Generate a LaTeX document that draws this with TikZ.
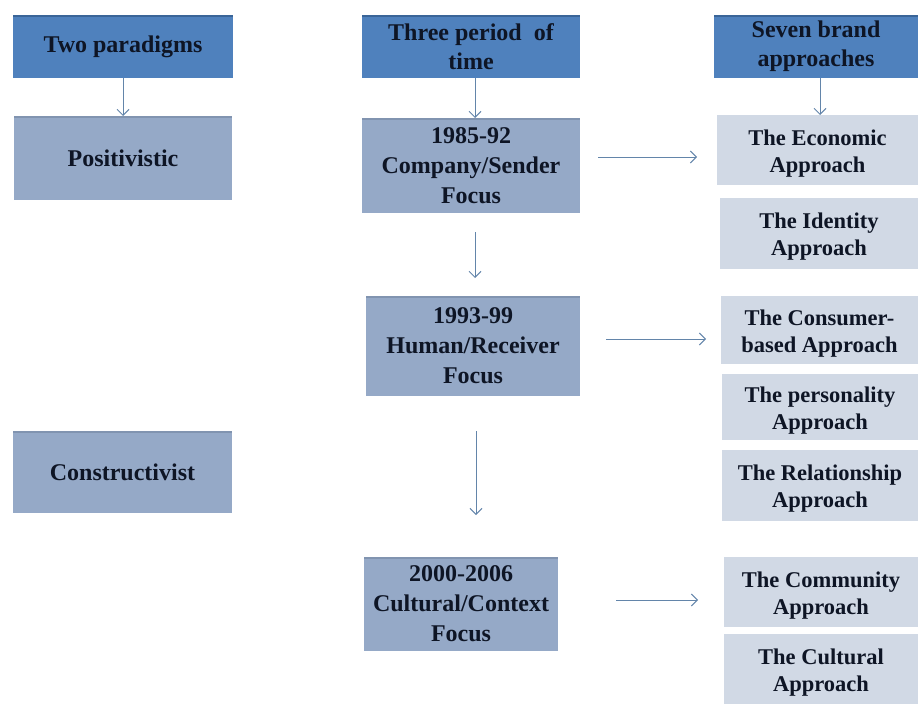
\documentclass[tikz,border=0pt]{standalone}
\usepackage{fontspec}
\setmainfont{Liberation Serif}
\usetikzlibrary{arrows.meta,calc}
\definecolor{headblue}{HTML}{4F81BD}
\definecolor{headtop}{HTML}{3A6598}
\definecolor{midblue}{HTML}{95A9C7}
\definecolor{midtop}{HTML}{8194B0}
\definecolor{lightblue}{HTML}{D1D9E5}
\definecolor{arrowblue}{HTML}{6385AA}
\definecolor{ink}{HTML}{0E1525}
\tikzset{
  box/.style={rectangle, inner sep=0pt, outer sep=0pt, align=center,
    text=ink, font=\bfseries},
  headbox/.style={box, fill=headblue, font=\fontsize{24}{29}\selectfont\bfseries,
    path picture={\draw[headtop, line width=3pt]
      (path picture bounding box.north west) -- (path picture bounding box.north east);}},
  midbox/.style={box, fill=midblue, font=\fontsize{24}{30}\selectfont\bfseries,
    path picture={\draw[midtop, line width=3pt]
      (path picture bounding box.north west) -- (path picture bounding box.north east);}},
  apbox/.style={box, fill=lightblue},
  aptext/.style={align=center, text=ink, inner sep=0pt, yshift=-3.5pt,
    font=\fontsize{22.5}{27}\selectfont\bfseries},
  arr/.style={draw=arrowblue, line width=1pt,
    -{Straight Barb[length=6pt,width=12pt]}}
}
\begin{document}
\begin{tikzpicture}[x=1pt,y=-1pt]
\useasboundingbox (0,0) rectangle (918,704);

% column headers
\node[headbox, minimum width=220pt, minimum height=63pt] (two) at (123,46.5) {Two paradigms};
\node[headbox, minimum width=218pt, minimum height=63pt] (three) at (471,46.5) {Three period\ \ of\\time};
\node[headbox, minimum width=204pt, minimum height=63pt] (seven) at (816,46.5) {Seven brand\\approaches};

% paradigms
\node[midbox, minimum width=218pt, minimum height=84pt] (pos) at (123,158) {Positivistic};
\node[midbox, minimum width=219pt, minimum height=82pt] (con) at (122.5,472) {Constructivist};

% periods
\node[midbox, minimum width=218pt, minimum height=95pt] (pa) at (471,165.5) {1985-92\\Company/Sender\\Focus};
\node[midbox, minimum width=214pt, minimum height=100pt] (pb) at (473,346) {1993-99\\Human/Receiver\\Focus};
\node[midbox, minimum width=194pt, minimum height=94pt] (pc) at (461,604) {2000-2006\\Cultural/Context\\Focus};

% brand approaches
\node[apbox, minimum width=201pt, minimum height=70pt,
  label={[aptext]center:The Economic\\Approach}] (eco) at (817.5,150) {};
\node[apbox, minimum width=198pt, minimum height=71pt,
  label={[aptext]center:The Identity\\Approach}] (ide) at (819,233.5) {};
\node[apbox, minimum width=197pt, minimum height=68pt,
  label={[aptext]center:The Consumer-\\based Approach}] (cons) at (819.5,330) {};
\node[apbox, minimum width=196pt, minimum height=66pt,
  label={[aptext]center:The personality\\Approach}] (pers) at (820,407) {};
\node[apbox, minimum width=196pt, minimum height=71pt,
  label={[aptext]center:The Relationship\\Approach}] (rel) at (820,485.5) {};
\node[apbox, minimum width=194pt, minimum height=70pt,
  label={[aptext]center:The Community\\Approach}] (com) at (821,592) {};
\node[apbox, minimum width=194pt, minimum height=70pt,
  label={[aptext]center:The Cultural\\Approach}] (cul) at (821,669) {};

% vertical connectors
\draw[arr] (two.south) -- (pos.north);
\draw[arr] ($(three.south)+(4,0)$) -- ($(pa.north)+(4,0)$);
\draw[arr] ($(seven.south)+(4,0)$) -- ($(eco.north)+(2.5,0)$);
\draw[arr, shorten <=19pt, shorten >=18pt] ($(pa.south)+(4,0)$) -- ($(pb.north)+(2,0)$);
\draw[arr, shorten <=35pt, shorten >=42pt] ($(pb.south)+(3,0)$) -- ($(pc.north)+(15,0)$);

% horizontal connectors
\draw[arr, shorten <=18pt, shorten >=20pt] ($(pa.east)+(0,-8.5)$) -- ($(eco.west)+(0,7)$);
\draw[arr, shorten <=26pt, shorten >=15pt] ($(pb.east)+(0,-7)$) -- ($(cons.west)+(0,9)$);
\draw[arr, shorten <=58pt, shorten >=26pt] ($(pc.east)+(0,-4)$) -- ($(com.west)+(0,8)$);
\end{tikzpicture}
\end{document}
